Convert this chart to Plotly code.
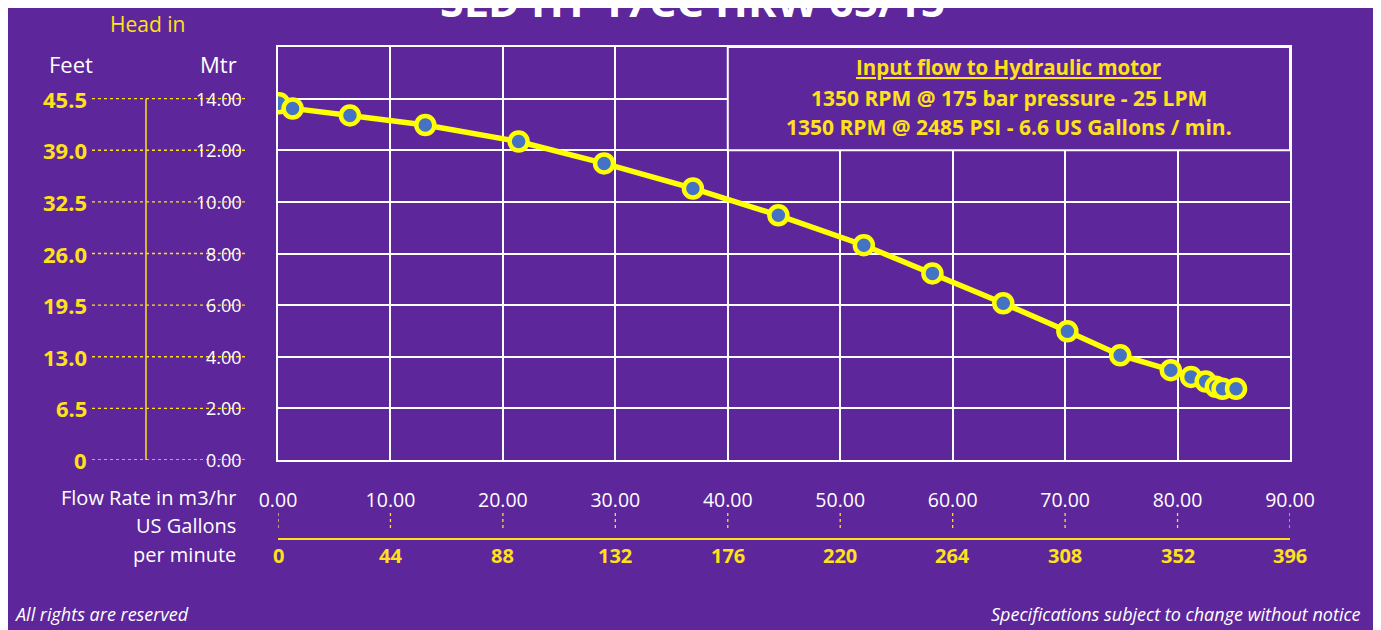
import plotly.graph_objects as go

# ---------------- data ----------------
flow_m3hr = [0.1, 1.3, 6.4, 13.1, 21.4, 29.0, 36.9, 44.5, 52.1, 58.2, 64.5, 70.2,
             74.9, 79.4, 81.2, 82.5, 83.4, 84.0, 85.2]
head_mtr = [13.82, 13.62, 13.35, 12.98, 12.34, 11.49, 10.52, 9.48, 8.32, 7.23, 6.07, 4.99,
            4.06, 3.48, 3.22, 3.04, 2.84, 2.76, 2.76]

x_ticks = [0, 10, 20, 30, 40, 50, 60, 70, 80, 90]
x_tick_text = ["0.00", "10.00", "20.00", "30.00", "40.00", "50.00", "60.00", "70.00", "80.00", "90.00"]
gpm_labels = ["0", "44", "88", "132", "176", "220", "264", "308", "352", "396"]

mtr_ticks = [0, 2, 4, 6, 8, 10, 12, 14]
mtr_labels = ["0.00", "2.00", "4.00", "6.00", "8.00", "10.00", "12.00", "14.00"]
feet_labels = ["0", "6.5", "13.0", "19.5", "26.0", "32.5", "39.0", "45.5"]

title_text = "SLD HT 17CC HRW 65/15"
box_lines = ["Input flow to Hydraulic motor",
             "1350 RPM @ 175 bar pressure - 25 LPM",
             "1350 RPM @ 2485 PSI - 6.6 US Gallons / min."]

# ---------------- styling ----------------
W, H = 1381, 630
OFF = 8  # page body margin
L, R, T, B = 278 - OFF, 1290 - OFF, 47 - OFF, 460 - OFF
BG = "#5D269B"
YEL = "#FFE11A"
LINE_YEL = "#FFFF00"
WHITE = "#FFFFFF"
FONT = "Open Sans"

def px_x(px):
    # px given in page pixels
    return (px - OFF - L) / (R - L)

def px_y(py):
    return (B - (py - OFF)) / (B - T)

fig = go.Figure()
fig.add_trace(go.Scatter(
    x=flow_m3hr, y=head_mtr, mode="lines+markers",
    line=dict(color=LINE_YEL, width=5.5),
    marker=dict(size=18, color="#4472C4", line=dict(color=LINE_YEL, width=4.5)),
    hoverinfo="x+y", showlegend=False))

shapes = []
annotations = []

# info box covering grid in upper-right
shapes.append(dict(type="rect", xref="x", yref="y", x0=40, x1=90, y0=12, y1=16,
                   fillcolor=BG, line=dict(color=WHITE, width=2), layer="above"))
for i, (t, py) in enumerate(zip(box_lines, [67, 98, 127])):
    annotations.append(dict(
        xref="x", yref="paper", x=65, y=px_y(py), text=t, showarrow=False,
        xanchor="center", yanchor="middle",
        font=dict(family=FONT, size=21 if i else 20.5, color=YEL, weight="bold",
                  lineposition="under" if i == 0 else "none")))

# left head scale
for v, ft, mt in zip(mtr_ticks, feet_labels, mtr_labels):
    shapes.append(dict(type="line", xref="paper", yref="y", x0=px_x(92), x1=px_x(246),
                       y0=v, y1=v, line=dict(color=YEL, width=1.3, dash="dot")))
    annotations.append(dict(xref="paper", yref="y", x=px_x(89), y=v, text=ft, showarrow=False,
                            xanchor="right", yanchor="middle",
                            font=dict(family=FONT, size=22, color=YEL, weight="bold")))
    annotations.append(dict(xref="paper", yref="y", x=px_x(244), y=v, text=mt, showarrow=False,
                            xanchor="right", yanchor="middle",
                            font=dict(family=FONT, size=18, color=WHITE)))
shapes.append(dict(type="line", xref="paper", yref="y", x0=px_x(146), x1=px_x(146),
                   y0=0, y1=14, line=dict(color=YEL, width=1.5)))

annotations.append(dict(xref="paper", yref="paper", x=px_x(147), y=px_y(24), text="Head in",
                        showarrow=False, xanchor="center", yanchor="middle",
                        font=dict(family=FONT, size=21, color=YEL)))
annotations.append(dict(xref="paper", yref="paper", x=px_x(71), y=px_y(64), text="Feet",
                        showarrow=False, xanchor="center", yanchor="middle",
                        font=dict(family=FONT, size=22, color=WHITE)))
annotations.append(dict(xref="paper", yref="paper", x=px_x(218), y=px_y(64), text="Mtr",
                        showarrow=False, xanchor="center", yanchor="middle",
                        font=dict(family=FONT, size=22, color=WHITE)))

# bottom gallons scale
for xv, g in zip(x_ticks, gpm_labels):
    shapes.append(dict(type="line", xref="x", yref="paper", x0=xv, x1=xv,
                       y0=px_y(513), y1=px_y(531), line=dict(color=YEL, width=1.3, dash="dot")))
    annotations.append(dict(xref="x", yref="paper", x=xv, y=px_y(555), text=g, showarrow=False,
                            xanchor="center", yanchor="middle",
                            font=dict(family=FONT, size=20, color=YEL, weight="bold")))
shapes.append(dict(type="line", xref="x", yref="paper", x0=0, x1=90,
                   y0=px_y(539), y1=px_y(539), line=dict(color=YEL, width=2)))

for t, py in zip(["Flow Rate in m3/hr", "US Gallons", "per minute"], [497, 525, 554]):
    annotations.append(dict(xref="paper", yref="paper", x=px_x(238), y=px_y(py), text=t,
                            showarrow=False, xanchor="right", yanchor="middle",
                            font=dict(family=FONT, size=20, color=WHITE)))

# title (partly cut at top, as in the reference)
annotations.append(dict(xref="paper", yref="paper", x=px_x(692), y=px_y(1), text=title_text,
                        showarrow=False, xanchor="center", yanchor="middle",
                        font=dict(family=FONT, size=43, color=WHITE, weight="bold")))

# footer
annotations.append(dict(xref="paper", yref="paper", x=px_x(12), y=px_y(614),
                        text="All rights are reserved", showarrow=False,
                        xanchor="left", yanchor="middle",
                        font=dict(family=FONT, size=18, color=WHITE, style="italic")))
annotations.append(dict(xref="paper", yref="paper", x=px_x(1363), y=px_y(614),
                        text="Specifications subject to change without notice", showarrow=False,
                        xanchor="right", yanchor="middle",
                        font=dict(family=FONT, size=18, color=WHITE, style="italic")))

fig.update_layout(
    width=W, height=H,
    margin=dict(l=L, r=W - R, t=T, b=H - B, pad=0),
    paper_bgcolor=BG, plot_bgcolor=BG,
    shapes=shapes, annotations=annotations,
    xaxis=dict(range=[0, 90], tickvals=x_ticks, ticktext=x_tick_text,
               showgrid=True, gridcolor=WHITE, gridwidth=2, zeroline=False,
               showline=True, linecolor=WHITE, linewidth=2, mirror=True,
               ticks="", ticklabelstandoff=22,
               tickfont=dict(family=FONT, size=19.5, color=WHITE)),
    yaxis=dict(range=[0, 16], tickvals=mtr_ticks + [16], showticklabels=False,
               showgrid=True, gridcolor=WHITE, gridwidth=2, zeroline=False,
               showline=True, linecolor=WHITE, linewidth=2, mirror=True, ticks=""),
    font=dict(family=FONT),
)

fig.write_html("out.html")
